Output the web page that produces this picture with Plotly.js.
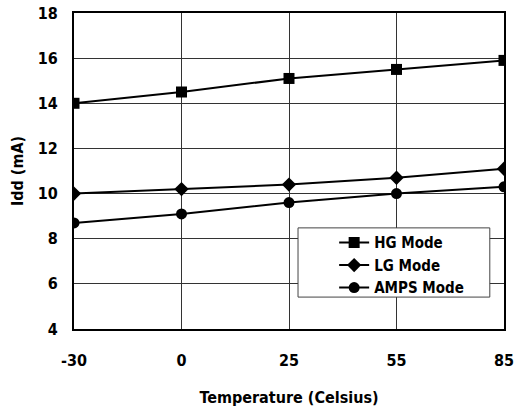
<!DOCTYPE html>
<html><head><meta charset="utf-8">
<script src="https://cdn.plot.ly/plotly-3.0.1.min.js"></script>
<style>body{margin:0;background:#fff}#c{width:514px;height:413px}</style>
</head><body><div id="c"></div>
<script>
const temps = ['-30','0','25','55','85'];
const hgMode = [14.0, 14.5, 15.1, 15.5, 15.9];
const lgMode = [10.0, 10.2, 10.4, 10.7, 11.1];
const ampsMode = [8.7, 9.1, 9.6, 10.0, 10.3];
const yTicks = [4,6,8,10,12,14,16,18];

const F = '"DejaVu Sans Condensed", "Liberation Sans Narrow", "Arial Narrow", sans-serif';
function tr(name, y, sym, size){
  return {x: temps, y: y, name: name, type:'scatter', mode:'lines+markers',
    line:{color:'#000', width:2}, marker:{symbol:sym, size:size, color:'#000'}};
}
const data = [
  tr('HG Mode', hgMode, 'square', 11),
  tr('LG Mode', lgMode, 'diamond', 11),
  tr('AMPS Mode', ampsMode, 'circle', 11)
];
const layout = {
  width:514, height:413,
  margin:{l:74, r:10, t:13, b:84},
  paper_bgcolor:'#fff', plot_bgcolor:'#fff',
  font:{family:F, color:'#000', size:15},
  showlegend:true,
  legend:{x:0.605, y:0.325, xanchor:'left', yanchor:'top', bgcolor:'rgba(0,0,0,0)',
    borderwidth:0, font:{family:F, size:15, weight:'bold'},
    tracegroupgap:0},
  shapes:[{type:'rect', xref:'paper', yref:'paper', x0:0.521, x1:0.967, y0:0.101, y1:0.320,
    line:{color:'#444', width:1}, fillcolor:'#fff', layer:'above'}],
  xaxis:{type:'category', range:[0,4], showline:true, linecolor:'#000', linewidth:2, mirror:true,
    showgrid:true, gridcolor:'#333', gridwidth:1, ticks:'', zeroline:false,
    tickfont:{family:F, size:16, weight:'bold'}, ticklabelstandoff:16,
    title:{text:'Temperature (Celsius)', font:{family:F, size:16, weight:'bold'}, standoff:23}},
  yaxis:{range:[4,18], tickvals:yTicks, ticktext:yTicks.map(String), showline:true, linecolor:'#000', linewidth:2, mirror:true,
    showgrid:true, gridcolor:'#333', gridwidth:1, ticks:'', zeroline:false,
    tickfont:{family:F, size:16, weight:'bold'}, ticklabelstandoff:11,
    title:{text:'Idd (mA)', font:{family:F, size:16, weight:'bold'}, standoff:10}}
};
Plotly.newPlot('c', data, layout, {displayModeBar:false, staticPlot:true});
</script></body></html>
